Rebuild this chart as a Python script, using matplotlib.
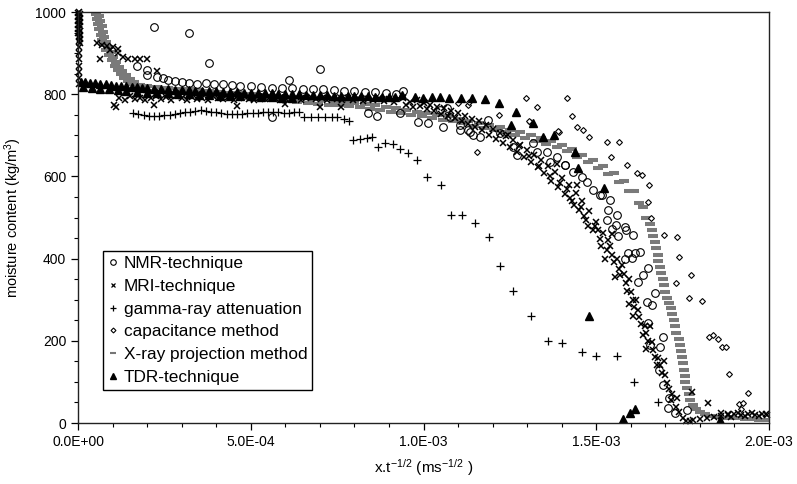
import matplotlib
matplotlib.use("Agg")
import matplotlib.pyplot as plt
from matplotlib.ticker import MultipleLocator, FixedLocator
from matplotlib.lines import Line2D

plt.rcParams["font.family"] = ["Liberation Sans", "DejaVu Sans"]
plt.rcParams["mathtext.default"] = "regular"

# x values are given in units of 1e-4 m s^-1/2
nmr_x = [1.70, 2.00, 2.00, 2.30, 2.45, 2.60, 2.80, 3.00, 3.20, 3.45, 3.70, 3.95, 4.20, 4.45, 4.70,
         5.00, 5.30, 5.60, 5.90, 6.20, 6.50, 6.80, 7.10, 7.40, 7.70, 8.00, 8.30, 8.60, 8.90, 9.20,
         2.20, 3.20, 3.80, 6.10, 7.00, 9.40,
         5.61, 8.39, 8.65, 9.32, 9.84, 10.13, 10.68, 10.56, 11.05, 11.29, 11.43, 11.87, 12.21, 12.59,
         13.17, 13.57, 13.86, 14.09, 14.33, 14.59, 14.73, 14.90, 15.11, 15.40,
         10.48, 10.77, 11.06, 11.35, 11.64, 12.71, 13.28, 13.66, 14.09,
         15.16, 15.34, 15.60, 15.31, 15.57, 15.83, 15.45, 15.86, 16.06, 15.63, 15.92, 16.12, 16.26,
         15.83, 16.03, 16.50, 16.35, 16.21, 16.70, 16.47, 16.61, 16.50, 16.93, 16.55, 16.84, 16.81,
         16.93, 17.10, 17.07, 17.28, 17.62]
nmr_y = [869, 859, 847, 842, 839, 835, 832, 830, 828, 826, 828, 826, 824, 822, 820,
         820, 818, 816, 815, 816, 814, 812, 813, 810, 808, 809, 806, 805, 803, 801,
         963, 949, 876, 835, 861, 808,
         745, 754, 747, 754, 732, 730, 766, 720, 713, 713, 700, 737, 705, 672,
         681, 659, 647, 628, 611, 599, 586, 567, 555, 543,
         762, 745, 725, 708, 696, 652, 659, 635, 628,
         555, 518, 506, 494, 482, 477, 472, 470, 457, 455, 414, 414, 416,
         399, 401, 377, 360, 343, 316, 294, 287, 243, 209, 190, 185, 129,
         92, 61, 36, 24, 32]

mri_x = [0.03, 0.03, 0.03, 0.03, 0.03, 0.03, 0.03, 0.03, 0.03, 0.03, 0.03, 0.03, 0.03, 0.03, 0.03,
         0.06, 0.06, 0.06, 0.06, 0.06, 0.06, 0.06, 0.06, 0.00, 0.00, 0.00, 0.00, 0.00, 0.00,
         0.55, 0.70, 0.85, 1.00, 1.15, 0.64, 0.93, 1.16, 1.30, 1.45, 1.65, 1.80, 2.00, 2.29,
         1.05, 1.20, 1.35, 1.50, 1.65, 1.80, 1.95, 2.10, 2.25, 2.40, 2.55, 2.70, 2.85, 3.00, 3.15,
         3.30, 3.45, 3.60, 3.75, 3.90, 4.05, 4.20, 4.35, 4.50, 4.65, 4.80, 4.95, 5.10, 5.25, 5.40,
         5.55, 5.70, 5.85, 6.00, 6.15, 6.30, 6.45, 6.60, 6.75, 6.90, 7.05, 7.20, 7.35, 7.50, 7.65,
         7.80, 7.95, 8.10, 8.25, 8.40, 8.55, 8.70, 8.85, 9.00, 9.15,
         1.10, 2.20, 4.60, 6.00, 7.00, 7.60,
         9.4, 9.5, 9.6, 9.7, 9.8, 9.9, 10.0, 10.1, 10.2, 10.3, 10.4, 10.5, 10.6, 10.7, 10.8, 10.9,
         11.0, 11.1, 11.2, 11.3, 11.4, 11.5, 11.6, 11.7, 11.8, 11.9, 12.0, 12.1, 12.2, 12.3, 12.4,
         12.5, 12.6, 12.7, 12.8, 12.9, 13.0, 13.1, 13.2, 13.3, 13.4, 13.5, 13.6, 13.7, 13.8, 13.9,
         14.0, 14.1, 14.2, 14.3, 14.4, 14.5, 14.6, 14.7, 14.8, 14.9, 15.0, 15.1, 15.2, 15.3, 15.4,
         15.5, 15.6, 15.7, 15.8, 15.9, 16.0, 16.1, 16.2, 16.3, 16.4, 16.5, 16.6, 16.7, 16.8, 16.9,
         17.0, 17.1, 17.2, 17.3, 17.4, 17.5, 17.6, 17.7,
         14.25, 14.65, 15.05, 15.45, 15.85, 16.25, 16.65, 17.05, 15.65, 16.05, 16.45, 16.85,
         12.45, 12.75, 13.05, 13.35, 13.65, 13.95, 14.15, 14.35, 14.55, 14.75, 14.95, 15.15,
         15.35, 15.55, 15.75, 15.95, 16.15, 16.35, 16.55, 16.75, 16.95, 17.15, 17.35, 15.25,
         15.45, 15.95, 16.45, 16.05, 14.45, 13.85,
         17.8, 18.0, 18.2, 18.4, 18.6, 18.8, 19.0, 19.2, 19.4, 19.6, 19.8, 19.95, 18.9, 19.3, 19.7,
         17.77, 18.23, 18.6, 18.8, 19.1, 19.5, 19.9]
mri_y = [1000, 990, 980, 970, 960, 950, 940, 930, 915, 900, 885, 870, 855, 840, 825,
         995, 985, 975, 965, 955, 945, 935, 925, 998, 988, 978, 968, 958, 948,
         925, 920, 918, 915, 910, 885, 907, 900, 890, 886, 886, 886, 886, 856,
         775, 790, 785, 795, 788, 792, 785, 790, 797, 788, 793, 786, 795, 790, 787,
         794, 789, 792, 786, 795, 790, 788, 794, 787, 791, 795, 789, 786, 792, 788,
         794, 790, 785, 792, 788, 793, 786, 790, 794, 788, 791, 786, 792, 789, 785,
         790, 787, 792, 784, 789, 786, 790, 783, 788, 781,
         770, 775, 772, 776, 768, 770,
         790, 775, 782, 770, 785, 772, 778, 765, 775, 760, 770, 752, 766, 748, 760, 742,
         755, 735, 748, 728, 740, 720, 735, 712, 725, 700, 716, 692, 706, 682, 698,
         672, 688, 660, 676, 648, 664, 636, 652, 622, 640, 608, 625, 590, 612, 575,
         596, 558, 580, 540, 560, 518, 540, 495, 515, 470, 490, 448, 462, 422, 432,
         392, 400, 360, 362, 322, 318, 282, 276, 240, 236, 200, 196, 160, 158, 122,
         118, 82, 70, 40, 28, 12, 6, 5,
         548, 505, 470, 408, 340, 258, 178, 98, 375, 300, 218, 140,
         700, 675, 650, 625, 600, 585, 570, 530, 525, 480, 480, 430,
         445, 355, 385, 290, 300, 215, 235, 140, 150, 55, 60, 400,
         460, 350, 180, 260, 580, 630,
         8, 10, 12, 15, 18, 20, 22, 20, 22, 20, 22, 20, 15, 18, 17,
         75, 49, 25, 22, 24, 25, 23]

gamma_x = [1.60, 1.75, 1.90, 2.05, 2.20, 2.35, 2.50, 2.65, 2.80, 2.95, 3.10, 3.25, 3.40, 3.55,
           3.70, 3.85, 4.00, 4.15, 4.30, 4.45, 4.60, 4.75, 4.90, 5.05, 5.20, 5.35, 5.50, 5.65,
           5.80, 5.95, 6.10, 6.25, 6.40, 6.55, 6.75, 6.95, 7.15, 7.35, 7.50, 7.70, 7.85,
           7.95, 8.15, 8.35, 8.50, 8.68, 8.88, 9.12, 9.32, 9.55, 9.81,
           10.1, 10.5, 10.8, 11.1, 11.5, 11.9, 12.2, 12.6, 13.1, 13.6, 14.0, 14.6, 15.0, 15.6,
           16.1, 16.8]
gamma_y = [754, 752, 750, 748, 747, 748, 749, 750, 752, 754, 756, 758, 760, 761,
           760, 758, 756, 754, 753, 752, 752, 753, 754, 755, 755, 756, 758, 758,
           756, 754, 754, 756, 757, 745, 744, 744, 744, 745, 744, 740, 735,
           688, 690, 693, 696, 671, 681, 679, 667, 657, 640,
           599, 579, 506, 506, 487, 453, 382, 321, 260, 199, 195, 173, 163, 163,
           100, 51]

cap_x = [3.0, 4.5, 6.0, 7.5, 9.0, 10.0, 11.0,
         12.97, 14.15, 13.28, 11.29, 11.32, 12.18, 13.08, 14.30, 14.44, 14.61, 14.79, 13.92,
         11.55, 15.31, 15.66, 15.42, 15.89, 16.18, 16.32, 16.52, 16.50, 16.58, 16.96, 17.33,
         17.39, 17.74, 17.31, 17.68, 18.06, 18.26, 18.38, 18.52, 18.64, 18.75, 18.84, 19.39,
         19.13, 19.24, 19.19, 13.05, 13.89]
cap_y = [800, 798, 795, 793, 790, 785, 778,
         791, 791, 769, 774, 781, 749, 732, 747, 720, 713, 696, 708,
         659, 684, 684, 647, 628, 608, 603, 579, 538, 499, 457, 453,
         404, 360, 341, 304, 297, 209, 214, 204, 185, 185, 119, 73,
         46, 49, 34, 735, 710]

xray_x = [0.52, 0.60, 0.55, 0.65, 0.58, 0.68, 0.62, 0.72, 0.66, 0.76, 0.70, 0.80, 0.75, 0.86,
          0.82, 0.94, 0.90, 1.02, 0.98, 1.10, 1.06, 1.18, 1.15, 1.28, 1.24, 1.38, 1.34, 1.50,
          1.46, 1.62, 1.60, 1.78, 1.95,
          2.0, 2.15, 2.3, 2.45, 2.6, 2.75, 2.9, 3.05, 3.2, 3.35, 3.5, 3.65, 3.8, 3.95, 4.1, 4.25,
          4.4, 4.55, 4.7, 4.85, 5.0, 5.15, 5.3, 5.45, 5.6, 5.75, 5.9, 6.05, 6.2, 6.35, 6.5, 6.65,
          6.8, 6.95, 7.1, 7.25, 7.4, 7.55, 7.7, 7.85, 8.0, 8.15, 8.3, 8.45, 8.6, 8.75, 8.9, 9.05,
          9.2, 9.35, 9.5, 9.65, 9.8, 9.95, 10.1, 10.25, 10.4, 10.55, 10.7, 10.85, 11.0, 11.15,
          11.3, 11.45, 11.6, 11.75, 11.9, 12.05, 12.2, 12.35, 12.5, 12.65, 12.8, 12.95, 13.1,
          13.25, 13.4, 13.55, 13.7, 13.85, 14.0, 14.15, 14.3, 14.45, 14.6, 14.75, 14.9, 15.05,
          15.2, 15.35, 15.5, 15.65, 15.8, 15.95, 16.1, 16.25, 16.35, 16.45, 16.55,
          16.6, 16.65, 16.7, 16.72, 16.78, 16.8, 16.85, 16.88, 16.92, 16.95, 17.0, 17.05, 17.1,
          17.15, 17.2, 17.25, 17.28, 17.32, 17.38, 17.42, 17.45, 17.48, 17.5, 17.53, 17.56,
          17.58, 17.62, 17.67, 17.72, 17.8, 17.9, 18.0, 18.15, 18.3, 18.5, 18.7, 18.9, 19.1,
          19.3, 19.5, 19.7, 19.9]
xray_y = [995, 990, 982, 978, 970, 965, 958, 952, 945, 940, 932, 928, 920, 915,
          908, 903, 895, 890, 883, 878, 870, 866, 860, 856, 850, 846, 840, 836,
          832, 829, 825, 822, 818,
          821, 809, 818, 806, 816, 804, 814, 802, 812, 800, 810, 798, 808, 797, 806, 795,
          804, 793, 802, 791, 800, 789, 798, 787, 796, 785, 794, 783, 792, 781, 790, 779,
          788, 777, 786, 775, 784, 773, 782, 771, 779, 768, 776, 765, 773, 762, 770, 758,
          766, 754, 762, 750, 758, 746, 754, 742, 750, 738, 746, 734, 741, 729,
          736, 724, 731, 719, 726, 713, 720, 707, 714, 701, 708, 694, 701,
          687, 694, 680, 686, 671, 677, 662, 668, 648, 652, 636, 640, 620,
          625, 605, 608, 587, 588, 564, 565, 535, 525, 500, 485,
          470, 455, 440, 425, 410, 395, 380, 365, 350, 335, 320, 305, 292,
          280, 265, 250, 235, 220, 205, 190, 175, 160, 145, 130, 115,
          100, 85, 70, 56, 45, 34, 27, 21, 17, 15, 13, 12, 11,
          10, 9, 8, 7]

tdr_x = [0.10, 0.20, 0.35, 0.50, 0.65, 0.80, 0.95, 1.10, 1.25, 1.40, 1.55, 1.70, 1.85, 2.00,
         2.20, 2.40, 2.60, 2.80, 3.00, 3.20, 3.40, 3.60, 3.80, 4.00, 4.20, 4.40, 4.60, 4.80,
         5.00, 5.20, 5.40, 5.60, 5.80, 6.00, 6.20, 6.40, 6.60, 6.80, 7.00, 7.20, 7.40, 7.60,
         7.80, 8.00, 8.20, 8.40, 8.60, 8.80, 9.00,
         0.15, 0.40, 0.65, 0.90, 1.15, 1.40, 1.70, 2.00, 2.30, 2.60, 2.90, 3.20, 3.50, 3.80,
         4.10, 4.40, 4.70, 5.00, 5.30, 5.60, 5.90, 6.20,
         9.17, 9.38, 9.75, 9.98, 10.24, 10.48, 10.74, 11.08, 11.40, 11.78, 12.18, 12.68, 12.53,
         13.17, 13.46, 13.78, 14.38, 14.47, 15.22, 14.79, 15.77, 15.98, 16.12, 18.58]
tdr_y = [830, 829, 828, 827, 825, 824, 822, 821, 820, 819, 818, 817, 816, 815,
         814, 813, 812, 811, 810, 810, 809, 808, 808, 807, 806, 806, 805, 804,
         804, 803, 803, 802, 801, 801, 800, 800, 799, 799, 798, 798, 797, 797,
         796, 796, 795, 795, 794, 794, 793,
         818, 816, 814, 812, 810, 808, 806, 804, 803, 802, 801, 800, 799, 798,
         797, 796, 795, 795, 794, 793, 792, 791,
         793, 798, 793, 791, 793, 793, 791, 791, 791, 788, 779, 757, 725,
         730, 696, 701, 659, 620, 572, 260, 10, 24, 34, 8]

x_ticks = [0, 5, 10, 15, 20]
x_tick_labels = ["0.0E+00", "5.0E-04", "1.0E-03", "1.5E-03", "2.0E-03"]
y_ticks = [0, 200, 400, 600, 800, 1000]


def scale(xs):
    return [v * 1e-4 for v in xs]


fig = plt.figure(figsize=(7.97, 4.84), dpi=100)
ax = fig.add_axes([0.0979, 0.126, 0.8670, 0.849])

ax.plot(scale(xray_x), xray_y, ls="none", marker="_", ms=7.5, mew=2.9, color="#7a7a7a")
ax.plot(scale(cap_x), cap_y, ls="none", marker="D", ms=3, mfc="white", mec="black", mew=0.8)
ax.plot(scale(gamma_x), gamma_y, ls="none", marker="+", ms=6, mew=0.9, color="black")
ax.plot(scale(nmr_x), nmr_y, ls="none", marker="o", ms=5.5, mfc="none", mec="black", mew=0.8)
ax.plot(scale(mri_x), mri_y, ls="none", marker="x", ms=5, mew=1.1, color="black", clip_on=False)
ax.plot(scale(tdr_x), tdr_y, ls="none", marker="^", ms=5.5, color="black")

ax.set_xlim(0, 2e-3)
ax.set_ylim(0, 1000)
ax.xaxis.set_major_locator(FixedLocator(scale(x_ticks)))
ax.set_xticklabels(x_tick_labels)
ax.xaxis.set_minor_locator(MultipleLocator(1e-4))
ax.set_yticks(y_ticks)
ax.yaxis.set_minor_locator(MultipleLocator(50))
ax.tick_params(which="major", direction="out", length=5, width=0.9, labelsize=10, colors="black")
ax.tick_params(which="minor", direction="out", length=3, width=0.8)
for s in ax.spines.values():
    s.set_linewidth(1.0)
    s.set_color("#222222")

ax.set_xlabel("x.t$^{-1/2}$ (ms$^{-1/2}$ )", fontsize=11, labelpad=6)
ax.set_ylabel("moisture content (kg/m$^3$)", fontsize=10.5, labelpad=8)

handles = [
    Line2D([], [], ls="none", marker="o", ms=4, mfc="none", mec="black", mew=0.8),
    Line2D([], [], ls="none", marker="x", ms=3.5, color="black", mew=0.9),
    Line2D([], [], ls="none", marker="+", ms=5, color="black", mew=0.9),
    Line2D([], [], ls="none", marker="D", ms=2.5, mfc="white", mec="black", mew=0.8),
    Line2D([], [], ls="none", marker="_", ms=4, mew=1.5, color="#767676"),
    Line2D([], [], ls="none", marker="^", ms=4.5, color="black"),
]
labels = ["NMR-technique", "MRI-technique", "gamma-ray attenuation",
          "capacitance method", "X-ray projection method", "TDR-technique"]
leg = ax.legend(handles, labels, loc="lower left", bbox_to_anchor=(0.036, 0.080),
                fontsize=12.4, frameon=True, fancybox=False, framealpha=1,
                edgecolor="black", handlelength=0.6, handletextpad=0.3,
                labelspacing=0.45, borderpad=0.3, borderaxespad=0)
leg.get_frame().set_linewidth(1.0)

fig.savefig("out.png", dpi=100)
